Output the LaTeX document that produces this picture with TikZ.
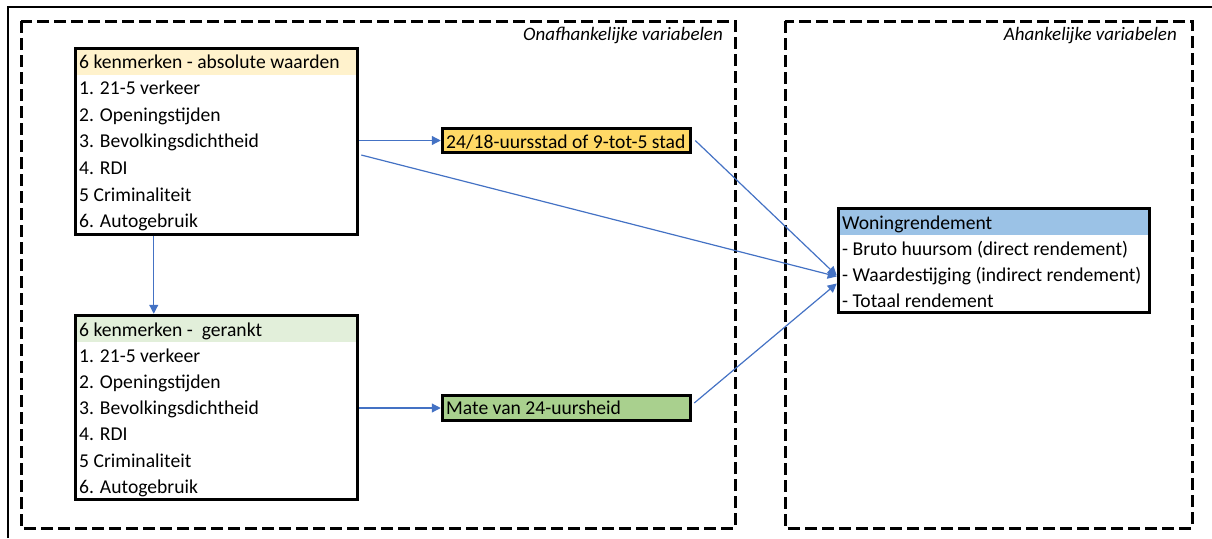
\documentclass[tikz,border=0pt]{standalone}
\usepackage{fontspec}
\setmainfont{Carlito}
\usetikzlibrary{arrows.meta,calc}
\definecolor{connblue}{HTML}{4472C4}
\definecolor{hdrorange}{HTML}{FFF2CC}
\definecolor{hdrgreen}{HTML}{E2EFDA}
\definecolor{hdrblue}{HTML}{9BC2E6}
\definecolor{stadgold}{HTML}{FFD966}
\definecolor{matgreen}{HTML}{A9D08E}
\tikzset{
  frame/.style={line width=2.2pt},
  region/.style={line width=3pt, dash pattern=on 12pt off 5pt},
  regionlabel/.style={font=\fontsize{19}{21}\selectfont\itshape, anchor=base east, inner sep=0},
  listbox/.style={draw, line width=3.5pt, inner sep=0},
  header/.style={inner sep=0, anchor=north west, minimum height=26},
  row/.style={anchor=base west, inner sep=0, font=\fontsize{19.6}{22}\selectfont},
  tagbox/.style={draw, line width=3.5pt, inner sep=0, minimum width=248},
  conn/.style={draw=connblue, line width=1.2pt, -{Triangle[length=9pt,width=9pt]}},
}
\begin{document}
\begin{tikzpicture}[x=1pt,y=-1pt]
\useasboundingbox (0,0) rectangle (1212,538);

% outer frame and the two variable regions
\draw[frame] (8,538) -- (8,7) -- (1212,7);
\draw[region] (21,21) rectangle (735,528);
\draw[region] (785,21) rectangle (1192,528);
\node[regionlabel] (indeplabel) at (723,40) {Onafhankelijke variabelen};
\node[regionlabel] (deplabel) at (1177,40) {Ahankelijke variabelen};

% header bands
\node[header, fill=hdrorange, minimum width=282] (abshead) at (75.5,48.5) {};
\node[header, fill=hdrgreen, minimum width=282] (rankhead) at (75.5,315.5) {};
\node[header, fill=hdrblue, minimum width=311] (wonhead) at (838.5,208.5) {};

% boxes
\node[listbox, minimum width=282, minimum height=186] (abs) at (216.5,141.5) {};
\node[listbox, minimum width=282, minimum height=184] (rank) at (216.5,407.5) {};
\node[listbox, minimum width=311, minimum height=104] (won) at (994,260.5) {};
\node[tagbox, fill=stadgold, minimum height=24] (stad) at (566.5,140.5) {};
\node[tagbox, fill=matgreen, minimum height=25] (mate) at (566.5,408) {};

% box texts
\foreach \t [count=\i] in {{6 kenmerken - absolute waarden},{1. 21-5 verkeer},{2. Openingstijden},{3. Bevolkingsdichtheid},{4. RDI},{5 Criminaliteit},{6. Autogebruik}}
  \node[row] (abs-\i) at (79,{68+26.6*(\i-1)}) {\t};
\foreach \t [count=\i] in {{6 kenmerken -~ gerankt},{1. 21-5 verkeer},{2. Openingstijden},{3. Bevolkingsdichtheid},{4. RDI},{5 Criminaliteit},{6. Autogebruik}}
  \node[row] (rank-\i) at (79,{336+26.2*(\i-1)}) {\t};
\foreach \t [count=\i] in {{Woningrendement},{- Bruto huursom (direct rendement)},{- Waardestijging (indirect rendement)},{- Totaal rendement}}
  \node[row] (won-\i) at (842,{229+26.2*(\i-1)}) {\t};
\node[row] (stad-t) at (446,148) {24/18-uursstad of 9-tot-5 stad};
\node[row] (mate-t) at (446,414) {Mate van 24-uursheid};

% connectors
\draw[conn] ($(abs.south west)+(80,0)$) -- ($(rank.north west)+(80,0)$);
\draw[conn] (abs.east |- stad.west) -- (stad.west);
\draw[conn] (rank.east |- mate.west) -- (mate.west);
\draw[conn] ($(abs.east)+(2,13.5)$) -- ($(won.west)+(0,16)$);
\draw[conn] ($(stad.east)+(3,0)$) -- ($(won.west)+(0,15)$);
\draw[conn] ($(mate.east)+(2,-5)$) -- ($(won.west)+(0,23)$);
\end{tikzpicture}
\end{document}
